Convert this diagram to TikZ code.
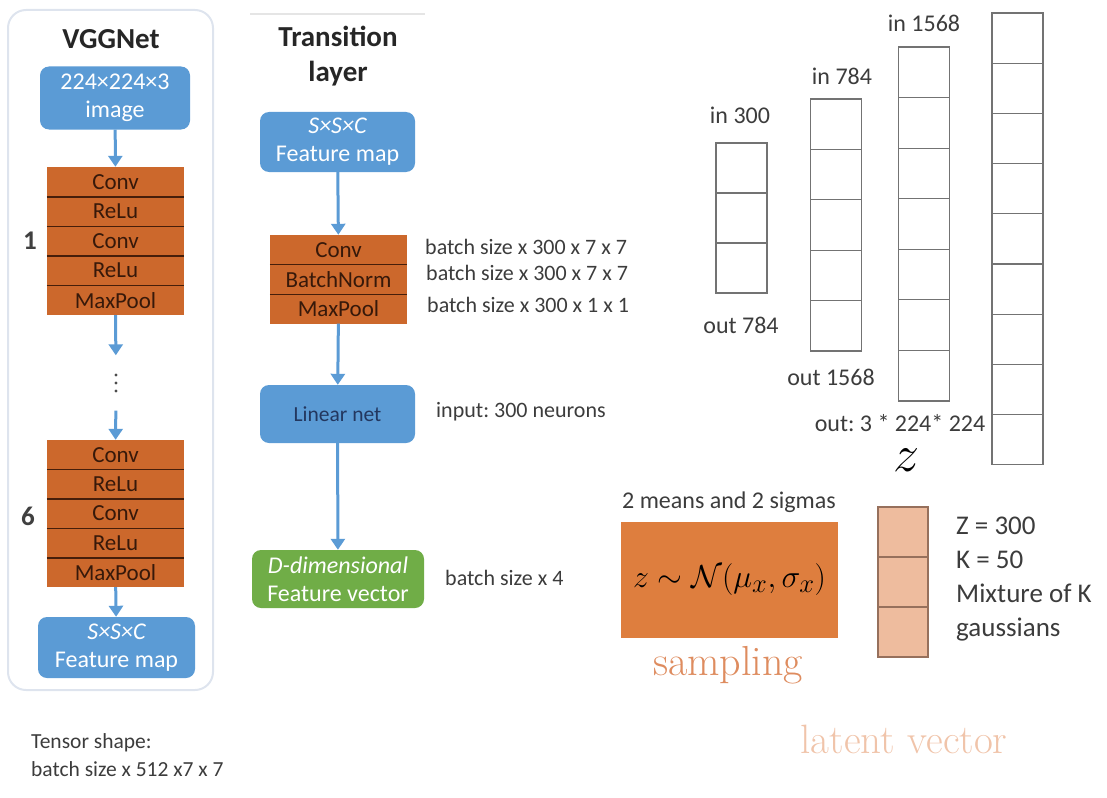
\documentclass[tikz,border=0pt]{standalone}
\usepackage{fontspec}
\newfontfamily\calfont{Carlito}
\usetikzlibrary{positioning,arrows.meta}

\definecolor{vggblue}{RGB}{91,155,213}
\definecolor{navytxt}{RGB}{35,55,95}
\definecolor{featgreen}{RGB}{112,173,71}
\definecolor{layerorange}{RGB}{204,104,44}
\definecolor{layerline}{RGB}{70,30,10}
\definecolor{layertxt}{RGB}{55,25,10}
\definecolor{sampleorange}{RGB}{222,126,62}
\definecolor{latentfill}{RGB}{238,188,158}
\definecolor{latentline}{RGB}{150,112,92}
\definecolor{samplingtxt}{RGB}{222,140,95}
\definecolor{latenttxt}{RGB}{240,196,170}
\definecolor{labeltxt}{RGB}{60,60,60}
\definecolor{panelline}{RGB}{222,228,238}

\newcommand\sz[2]{\fontsize{#1}{#2}\selectfont}
\frenchspacing

\tikzset{
  blbox/.style={rounded corners=9pt, fill=vggblue, text=white, align=center,
    inner sep=0pt, font=\calfont\sz{24}{28}},
  layer/.style={fill=layerorange, text=layertxt, minimum width=137pt,
    inner sep=0pt, font=\calfont\sz{23}{24}},
  sep/.style={layerline, line width=1.4pt},
  flow/.style={vggblue, line width=3pt, -{Triangle[width=14pt,length=11pt]}},
  lbl/.style={text=labeltxt, font=\calfont\sz{22}{26}, inner sep=0pt},
  collbl/.style={lbl, font=\calfont\sz{24}{26}},
  cell/.style={draw=black!55, line width=1.1pt, minimum width=51pt, inner sep=0pt},
  title/.style={text=black!85, align=center, font=\calfont\bfseries\sz{29}{35}}
}

\begin{document}
\begin{tikzpicture}[x=1pt,y=-1pt]
\useasboundingbox (0,0) rectangle (1107,797);

% VGGNet panel
\draw[panelline, line width=2pt, rounded corners=18pt] (8,10) rectangle (213,690);
\node[title] (vggtitle) at (111,39) {VGGNet};
\node[blbox, minimum width=150pt, minimum height=63pt] (img) at (115,98)
  {224×224×3\\image};

\foreach \lab [count=\i] in {Conv,ReLu,Conv,ReLu,MaxPool}
  \node[layer, minimum height=29.6pt] (a\i) at (115.5,{167+29.6*(\i-0.5)}) {\lab};
\foreach \i in {1,...,4}
  \draw[sep] (a\i.south west) -- (a\i.south east);
\node[lbl, font=\calfont\bfseries\sz{27}{28}, text=black!75] (one) at (30,241) {1};

\node[minimum height=55pt, minimum width=10pt, inner sep=0pt] (dots) at (116,383) {};
\foreach \d in {-8,0,8}
  \fill[black!70] ([yshift=\d pt]dots.center) circle (1.7pt);

\foreach \lab [count=\i] in {Conv,ReLu,Conv,ReLu,MaxPool}
  \node[layer, minimum height=29.4pt] (b\i) at (115.5,{440+29.4*(\i-0.5)}) {\lab};
\foreach \i in {1,...,4}
  \draw[sep] (b\i.south west) -- (b\i.south east);
\node[lbl, font=\calfont\bfseries\sz{27}{28}, text=black!75] (six) at (28,516) {6};

\node[blbox, minimum width=157pt, minimum height=61pt] (fmA) at (116.5,647.5)
  {{\itshape S×S×C}\\Feature map};

\draw[flow] (img) -- (a1);
\draw[flow] (a5) -- (dots);
\draw[flow] (dots) -- (b1);
\draw[flow] (b5) -- (fmA);

% Transition layer
\draw[black!10, line width=2pt] (250,14) -- (425,14);
\node[title] (trtitle) at (338,56) {Transition\\layer};
\node[blbox, minimum width=155pt, minimum height=60pt] (fmB) at (337.5,142)
  {{\itshape S×S×C}\\Feature map};
\foreach \lab [count=\i] in {Conv,BatchNorm,MaxPool}
  \node[layer, minimum height=29.5pt] (t\i) at (338.5,{235+29.5*(\i-0.5)}) {\lab};
\foreach \i in {1,2}
  \draw[sep] (t\i.south west) -- (t\i.south east);
\node[blbox, text=navytxt, minimum width=155pt, minimum height=58pt,
  font=\calfont\sz{21.5}{24}] (lin) at (337.5,414) {Linear net};
\node[blbox, fill=featgreen, minimum width=172pt, minimum height=58pt] (feat)
  at (338,579) {{\itshape D-dimensional}\\Feature vector};

\draw[flow] (fmB) -- (t1);
\draw[flow] (t3) -- (lin);
\draw[flow] (lin) -- (feat);

\node[lbl, anchor=west] (sh1) at (425,247) {batch size x 300 x 7 x 7};
\node[lbl, anchor=west] (sh2) at (426,273) {batch size x 300 x 7 x 7};
\node[lbl, anchor=west] (sh3) at (427,305) {batch size x 300 x 1 x 1};
\node[lbl, anchor=west] (inp) at (436,412) {input: 300 neurons};
\node[lbl, anchor=west] (sh4) at (445,578) {batch size x 4};

% decoder columns
\foreach \c/\xc/\top/\n/\h in {1/741.5/143/3/50, 2/836/99/5/50.4,
    3/924/47/7/50.57, 4/1017.5/13/9/50.2}
  \foreach \k in {1,...,\n}
    \node[cell, minimum height=\h] (c\c-\k) at (\xc,{\top+\h*(\k-0.5)}) {};

\node[collbl] (in1) at (740,115) {in 300};
\node[collbl] (out1) at (741,325) {out 784};
\node[collbl] (in2) at (842,76) {in 784};
\node[collbl] (out2) at (831,377) {out 1568};
\node[collbl] (in3) at (924,23) {in 1568};
\node[collbl] (out3) at (900,423) {out: 3 * 224* 224};
\node[inner sep=0pt, font=\Huge, scale=2.1] (zed) at (907,460) {$z$};

% sampling and latent vector
\node[fill=sampleorange, minimum width=217pt, minimum height=116pt] (samp)
  at (729.5,580) {};
\node[inner sep=0pt, font=\Huge, scale=1.28] (form) at (samp.center)
  {$z\sim\mathcal{N}(\mu_x,\sigma_x)$};
\node[collbl] (msig) at (729,502) {2 means and 2 sigmas};
\node[text=samplingtxt, inner sep=0pt] (sampling) at (728,665) {\sz{42}{44}sampling};

\foreach \k in {1,2,3}
  \node[cell, fill=latentfill, draw=latentline, minimum width=50pt,
    minimum height=50pt] (l\k) at (903,{507+50*(\k-0.5)}) {};
\node[lbl, anchor=north west, align=left, font=\calfont\sz{27}{34}] (mix)
  at (956,517) {Z = 300\\K = 50\\Mixture of K\\gaussians};
\node[text=latenttxt, inner sep=0pt] (latent) at (904,739)
  {\sz{41}{44}latent\hspace{0.3em}vector};

% tensor shape
\node[lbl, anchor=north west, align=left, font=\calfont\sz{21.5}{28}] (tensor)
  at (31,733) {Tensor shape:\\batch size x 512 x7 x 7};
\end{tikzpicture}
\end{document}
